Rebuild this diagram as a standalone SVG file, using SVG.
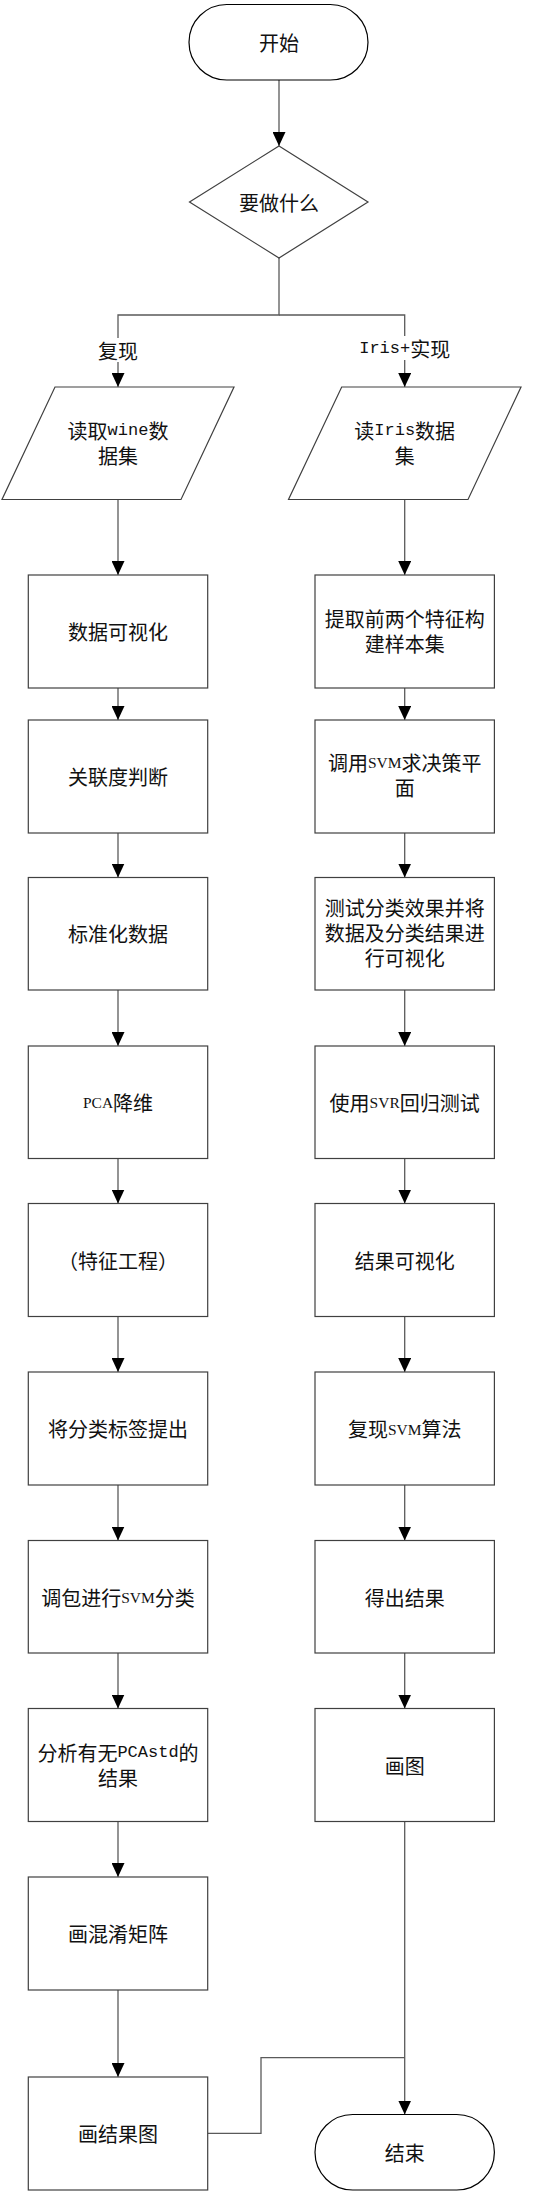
<svg xmlns="http://www.w3.org/2000/svg" width="549" height="2194" viewBox="0 0 549 2194">
<style>
.bg{fill:#ffffff}
.box{fill:#ffffff;stroke:#404040;stroke-width:1.2}
.term{fill:#ffffff;stroke:#000000;stroke-width:1.2}
.ln{fill:none;stroke:#5a5a5a;stroke-width:1.3}
.t{font-family:"Noto Sans CJK SC","Noto Sans CJK TC",sans-serif;font-size:20px;fill:#111111;text-anchor:middle;dominant-baseline:central}
.m{font-family:"Liberation Mono","DejaVu Sans Mono",monospace;font-size:17px}
.s{font-family:"Liberation Serif","DejaVu Serif",serif;font-size:15.5px}
</style>
<defs>
<marker id="arr" markerUnits="userSpaceOnUse" markerWidth="14" markerHeight="13" refX="14" refY="6.5" orient="auto">
<path d="M0,0 L14,6.5 L0,13 z" fill="#000000"/>
</marker>
</defs>
<rect class="bg" x="0" y="0" width="549" height="2194"/>

<g id="connectors">
<path class="ln" d="M279,80 V146" marker-end="url(#arr)"/>
<path class="ln" d="M279,258 V315 H118 V387" marker-end="url(#arr)"/>
<path class="ln" d="M279,315 H404.7 V387" marker-end="url(#arr)"/>
<path class="ln" d="M118,499.5 V575" marker-end="url(#arr)"/>
<path class="ln" d="M118,688 V720" marker-end="url(#arr)"/>
<path class="ln" d="M118,833 V877.5" marker-end="url(#arr)"/>
<path class="ln" d="M118,990 V1046" marker-end="url(#arr)"/>
<path class="ln" d="M118,1158.5 V1203.5" marker-end="url(#arr)"/>
<path class="ln" d="M118,1316.5 V1372" marker-end="url(#arr)"/>
<path class="ln" d="M118,1485 V1540.5" marker-end="url(#arr)"/>
<path class="ln" d="M118,1653 V1708.5" marker-end="url(#arr)"/>
<path class="ln" d="M118,1821.5 V1877" marker-end="url(#arr)"/>
<path class="ln" d="M118,1990 V2077" marker-end="url(#arr)"/>
<path class="ln" d="M404.7,499.5 V575" marker-end="url(#arr)"/>
<path class="ln" d="M404.7,688 V720" marker-end="url(#arr)"/>
<path class="ln" d="M404.7,833 V877.5" marker-end="url(#arr)"/>
<path class="ln" d="M404.7,990 V1046" marker-end="url(#arr)"/>
<path class="ln" d="M404.7,1158.5 V1203.5" marker-end="url(#arr)"/>
<path class="ln" d="M404.7,1316.5 V1372" marker-end="url(#arr)"/>
<path class="ln" d="M404.7,1485 V1540.5" marker-end="url(#arr)"/>
<path class="ln" d="M404.7,1653 V1708.5" marker-end="url(#arr)"/>
<path class="ln" d="M404.7,1821.5 V2114.5" marker-end="url(#arr)"/>
<path class="ln" d="M207.7,2133.3 H261 V2057.7 H404.7"/>
<g id="label-fuxian">
<rect class="bg" x="98" y="338" width="40" height="24"/>
<text class="t" x="118" y="350">复现</text>
</g>
<g id="label-iris">
<rect class="bg" x="360" y="336" width="90" height="24"/>
<text class="t" x="404.7" y="348"><tspan class="m">Iris+</tspan>实现</text>
</g>
</g>

<g id="start">
<rect class="term" x="189" y="4.5" width="179" height="75.5" rx="37.7" ry="37.7"/>
<text class="t" x="279" y="42">开始</text>
</g>
<g id="decide">
<path class="box" d="M279,146 L368,202 L279,258 L189.5,202 z"/>
<text class="t" x="279" y="202">要做什么</text>
</g>
<g id="read-wine">
<path class="box" d="M55,387 L234,387 L181,499.5 L2,499.5 z"/>
<text class="t" x="118" y="430">读取<tspan class="m">wine</tspan>数</text>
<text class="t" x="118" y="455">据集</text>
</g>
<g id="read-iris">
<path class="box" d="M341.7,387 L521,387 L468,499.5 L288.5,499.5 z"/>
<text class="t" x="404.7" y="430">读<tspan class="m">Iris</tspan>数据</text>
<text class="t" x="404.7" y="455">集</text>
</g>

<g id="L1"><rect class="box" x="28.3" y="575" width="179.4" height="113"/><text class="t" x="118" y="631.5">数据可视化</text></g>
<g id="L2"><rect class="box" x="28.3" y="720" width="179.4" height="113"/><text class="t" x="118" y="776">关联度判断</text></g>
<g id="L3"><rect class="box" x="28.3" y="877.5" width="179.4" height="112.5"/><text class="t" x="118" y="933.5">标准化数据</text></g>
<g id="L4"><rect class="box" x="28.3" y="1046" width="179.4" height="112.5"/><text class="t" x="118" y="1102"><tspan class="s">PCA</tspan>降维</text></g>
<g id="L5"><rect class="box" x="28.3" y="1203.5" width="179.4" height="113"/><text class="t" x="118" y="1260">（特征工程）</text></g>
<g id="L6"><rect class="box" x="28.3" y="1372" width="179.4" height="113"/><text class="t" x="118" y="1428.5">将分类标签提出</text></g>
<g id="L7"><rect class="box" x="28.3" y="1540.5" width="179.4" height="112.5"/><text class="t" x="118" y="1597">调包进行<tspan class="s">SVM</tspan>分类</text></g>
<g id="L8"><rect class="box" x="28.3" y="1708.5" width="179.4" height="113"/><text class="t" x="118" y="1752">分析有无<tspan class="m">PCAstd</tspan>的</text><text class="t" x="118" y="1777">结果</text></g>
<g id="L9"><rect class="box" x="28.3" y="1877" width="179.4" height="113"/><text class="t" x="118" y="1933.5">画混淆矩阵</text></g>
<g id="L10"><rect class="box" x="28.3" y="2077" width="179.4" height="113"/><text class="t" x="118" y="2133.3">画结果图</text></g>

<g id="R1"><rect class="box" x="315" y="575" width="179.4" height="113"/><text class="t" x="404.7" y="618">提取前两个特征构</text><text class="t" x="404.7" y="643">建样本集</text></g>
<g id="R2"><rect class="box" x="315" y="720" width="179.4" height="113"/><text class="t" x="404.7" y="762">调用<tspan class="s">SVM</tspan>求决策平</text><text class="t" x="404.7" y="787">面</text></g>
<g id="R3"><rect class="box" x="315" y="877.5" width="179.4" height="112.5"/><text class="t" x="404.7" y="907">测试分类效果并将</text><text class="t" x="404.7" y="932">数据及分类结果进</text><text class="t" x="404.7" y="957">行可视化</text></g>
<g id="R4"><rect class="box" x="315" y="1046" width="179.4" height="112.5"/><text class="t" x="404.7" y="1102">使用<tspan class="s">SVR</tspan>回归测试</text></g>
<g id="R5"><rect class="box" x="315" y="1203.5" width="179.4" height="113"/><text class="t" x="404.7" y="1260">结果可视化</text></g>
<g id="R6"><rect class="box" x="315" y="1372" width="179.4" height="113"/><text class="t" x="404.7" y="1428.5">复现<tspan class="s">SVM</tspan>算法</text></g>
<g id="R7"><rect class="box" x="315" y="1540.5" width="179.4" height="112.5"/><text class="t" x="404.7" y="1597">得出结果</text></g>
<g id="R8"><rect class="box" x="315" y="1708.5" width="179.4" height="113"/><text class="t" x="404.7" y="1765">画图</text></g>
<g id="end">
<rect class="term" x="315" y="2114.5" width="179.4" height="75.5" rx="37.7" ry="37.7"/>
<text class="t" x="404.7" y="2152">结束</text>
</g>
</svg>
